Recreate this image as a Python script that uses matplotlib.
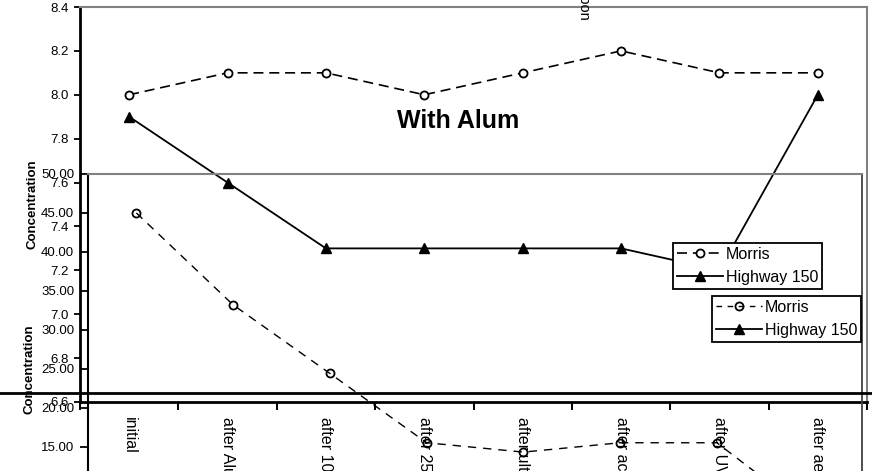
import matplotlib
matplotlib.use("Agg")
import matplotlib.pyplot as plt
from matplotlib.lines import Line2D
from matplotlib.ticker import FormatStrFormatter, FixedLocator

plt.rcParams['font.family'] = ['Liberation Sans', 'DejaVu Sans']

# Treatment steps shared by both panels
steps = ["initial", "after Alum", "after 100 micron", "after 25 micron",
         "after ultrafiltration", "after activated carbon", "after UV",
         "after aeration"]

# Upper panel (pH-scale concentration)
morris_ph = [8.0, 8.1, 8.1, 8.0, 8.1, 8.2, 8.1, 8.1]
highway_ph = [7.9, 7.6, 7.3, 7.3, 7.3, 7.3, 7.2, 8.0]
ph_ticks = [6.6, 6.8, 7.0, 7.2, 7.4, 7.6, 7.8, 8.0, 8.2, 8.4]

# Lower panel concentration
morris_conc = [45.0, 33.2, 24.4, 15.5, 14.3, 15.5, 15.5, 6.0]
conc_ticks = [0, 5, 10, 15, 20, 25, 30, 35, 40, 45, 50]

W, H = 872, 471
fig = plt.figure(figsize=(W / 100, H / 100), dpi=100)
fig.patch.set_facecolor("white")

GRAY = "#808080"
x = list(range(len(steps)))
legend_kw = dict(loc="upper left", bbox_transform=fig.transFigure,
                 borderaxespad=0, fancybox=False, edgecolor="black",
                 framealpha=1, fontsize=11.5, handlelength=2.85,
                 handletextpad=0.2, borderpad=0.25, labelspacing=0.5)

# ---------- upper panel ----------
axA = fig.add_axes([80 / W, 1 - 402 / H, 787 / W, 395 / H])
axA.set_facecolor("none")
axA.plot(x, morris_ph, color="black", lw=1.2, ls=(0, (6, 3.5)),
         marker="o", ms=5.8, mfc="white", mec="black", mew=1.3, label="Morris")
axA.plot(x, highway_ph, color="black", lw=1.3, ls="-",
         marker="^", ms=7.5, mfc="black", mec="black", label="Highway 150")
axA.set_xlim(-0.5, len(steps) - 0.5)
axA.set_ylim(ph_ticks[0], ph_ticks[-1])
axA.set_yticks(ph_ticks)
axA.yaxis.set_major_formatter(FormatStrFormatter("%.1f"))
axA.tick_params(axis="y", direction="out", length=4, width=1.3, pad=4,
                labelsize=9.5)
axA.set_xticks(x)
axA.set_xticklabels(steps, rotation=-90, va="top", ha="center", fontsize=11.5)
axA.tick_params(axis="x", which="major", length=0, pad=11)
axA.xaxis.set_minor_locator(FixedLocator([i - 0.5 for i in range(len(steps) + 1)]))
axA.tick_params(axis="x", which="minor", direction="out", length=6, width=1.4)
for side in ("top", "right"):
    axA.spines[side].set_color(GRAY)
    axA.spines[side].set_linewidth(1.5)
for side in ("left", "bottom"):
    axA.spines[side].set_color("black")
    axA.spines[side].set_linewidth(2)
axA.set_ylabel("Concentration", fontsize=9.5, fontweight="bold")
axA.yaxis.set_label_coords((38 - 80) / 787, 0.5)

legA = axA.legend(bbox_to_anchor=(673 / W, 1 - 243 / H), **legend_kw)
legA.get_frame().set_linewidth(1.3)

# ---------- lower panel ----------
axB = fig.add_axes([88 / W, 1 - 563.5 / H, 774 / W, 389.5 / H])
axB.set_facecolor("none")
axB.plot(x, morris_conc, color="black", lw=1.0, ls=(0, (6, 5)),
         marker="o", ms=5.8, mfc="none", mec="black", mew=1.3)
axB.set_xlim(-0.5, len(steps) - 0.5)
axB.set_ylim(conc_ticks[0], conc_ticks[-1])
axB.set_yticks(conc_ticks)
axB.yaxis.set_major_formatter(FormatStrFormatter("%.2f"))
axB.tick_params(axis="y", direction="out", length=6, width=1.3, pad=4,
                labelsize=9.5)
axB.set_xticks(x)
axB.set_xticklabels(steps, rotation=-90, va="top", fontsize=11.5)
axB.spines["top"].set_color(GRAY)
axB.spines["top"].set_linewidth(1.5)
axB.spines["right"].set_color("#404040")
axB.spines["right"].set_linewidth(1.3)
axB.spines["left"].set_color("black")
axB.spines["left"].set_linewidth(1.5)
axB.spines["bottom"].set_color("black")
axB.set_ylabel("Concentration", fontsize=9.5, fontweight="bold")
axB.yaxis.set_label_coords((35 - 88) / 774, 0.5)

handles_B = [
    Line2D([], [], color="black", lw=1.0, ls=(0, (4, 4)), marker="o", ms=5.8,
           mfc="none", mec="black", mew=1.3),
    Line2D([], [], color="black", lw=1.3, ls="-", marker="^", ms=7.5,
           mfc="black", mec="black"),
]
legB = axB.legend(handles_B, ["Morris", "Highway 150"],
                  bbox_to_anchor=(712 / W, 1 - 296 / H), **legend_kw)
legB.get_frame().set_linewidth(1.3)

fig.text(458 / W, 1 - 121 / H, "With Alum", ha="center", va="center",
         fontsize=18, fontweight="bold")

# stray label running off the top edge
fig.text(583 / W, 1 - 21 / H, "carbon", rotation=-90, ha="center", va="bottom",
         fontsize=10.5)

# full-width rule across the figure
fig.add_artist(Line2D([0, 1], [1 - 393 / H, 1 - 393 / H],
                      transform=fig.transFigure, color="black", lw=2))

fig.savefig("out.png", dpi=100)
